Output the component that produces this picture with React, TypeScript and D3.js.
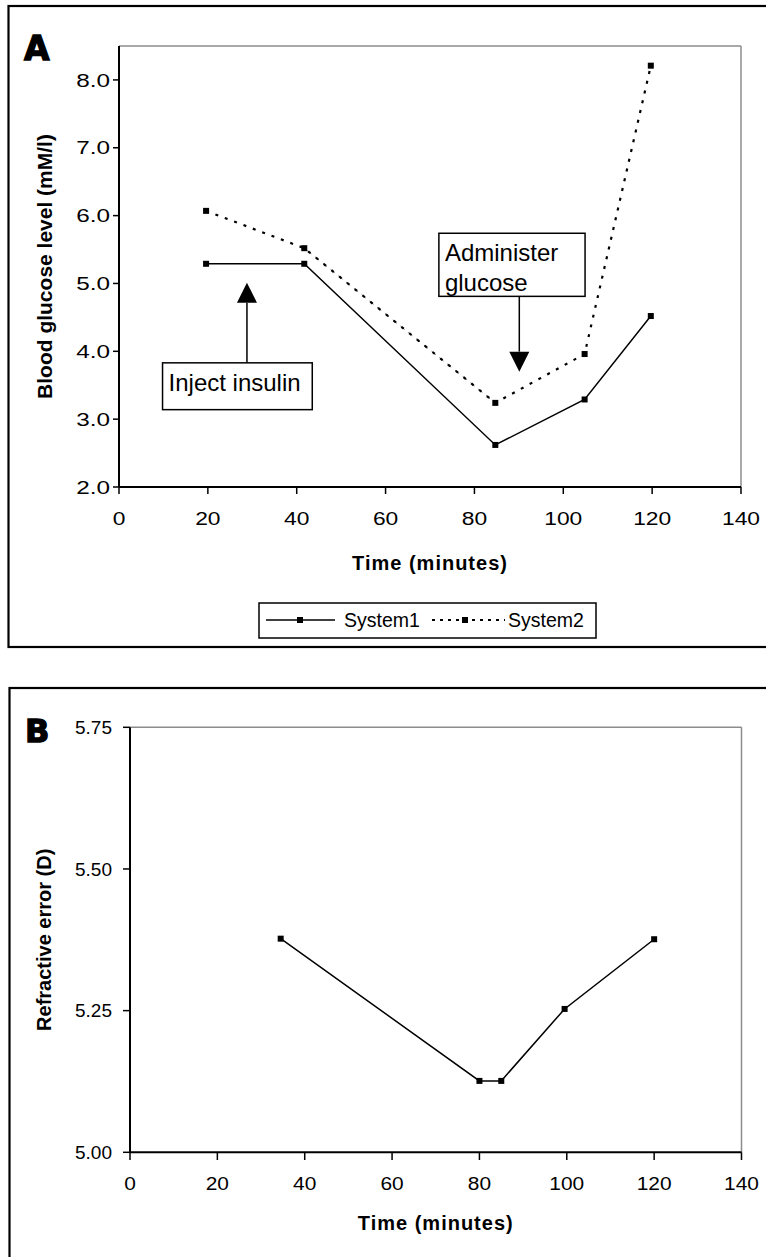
import React from "react";
import * as d3 from "d3";

// ---------- data ----------
const timeA = [19.6, 41.7, 84.7, 104.8, 119.7];
const system1 = [5.29, 5.29, 2.62, 3.29, 4.52];
const system2 = [6.07, 5.52, 3.24, 3.96, 8.21];
const seriesNames = ["System1", "System2"];

const timeB = [34.5, 80, 85, 99.5, 120];
const refractive = [5.377, 5.126, 5.126, 5.253, 5.376];

const xTicks = [0, 20, 40, 60, 80, 100, 120, 140];
const yTicksA = [2, 3, 4, 5, 6, 7, 8];
const yTicksB = [5.0, 5.25, 5.5, 5.75];

const insulinNote = { text: ["Inject insulin"], x0: 9.8, x1: 43.5, yTop: 3.83, yBot: 3.14, arrowX: 28.8, tipY: 5.01 };
const glucoseNote = { text: ["Administer", "glucose"], x0: 72.0, x1: 104.9, yTop: 5.74, yBot: 4.81, arrowX: 90.1, tipY: 3.7 };

const FONT = "'Liberation Sans', Arial, Helvetica, sans-serif";

function Marker({ x, y }: { x: number; y: number }) {
  return <rect x={x - 3} y={y - 3} width={6} height={6} fill="#000" />;
}

function Frame({ x, y, y0, y1 }: any) {
  const [xl, xr] = x.range();
  const yb = y(y0), yt = y(y1);
  return (
    <g>
      <line x1={xl} x2={xr} y1={yt} y2={yt} stroke="#8c8c8c" strokeWidth={1.5} />
      <line x1={xr} x2={xr} y1={yt} y2={yb} stroke="#8c8c8c" strokeWidth={1.5} />
      <line x1={xl} x2={xr} y1={yb} y2={yb} stroke="#000" strokeWidth={2} />
      <line x1={xl} x2={xl} y1={yt} y2={yb} stroke="#000" strokeWidth={2} />
    </g>
  );
}

function Note({ n, x, y, up }: any) {
  const bx0 = x(n.x0), bx1 = x(n.x1), by0 = y(n.yTop), by1 = y(n.yBot);
  const ax = x(n.arrowX), tip = y(n.tipY);
  const headH = 20, headW = 10;
  const base = up ? tip + headH : tip - headH;
  const tail = up ? by0 : by1;
  return (
    <g>
      <line x1={ax} x2={ax} y1={tail} y2={base} stroke="#000" strokeWidth={1.5} />
      <path d={`M${ax},${tip}L${ax - headW},${base}L${ax + headW},${base}Z`} fill="#000" />
      <rect x={bx0} y={by0} width={bx1 - bx0} height={by1 - by0} fill="#fff" stroke="#000" strokeWidth={1.5} />
      {n.text.map((t: string, i: number) => (
        <text key={i} x={bx0 + 6} y={by0 + 28 + i * 30} fontSize={24} fontFamily={FONT} fill="#000">{t}</text>
      ))}
    </g>
  );
}

export default function App() {
  const xA = d3.scaleLinear().domain([0, 140]).range([119, 741]);
  const yA = d3.scaleLinear().domain([2, 8.5]).range([487, 46]);
  const xB = d3.scaleLinear().domain([0, 140]).range([130, 741.5]);
  const yB = d3.scaleLinear().domain([5, 5.75]).range([1152.3, 727.3]);

  const lineA = d3.line<[number, number]>().x(d => xA(d[0])).y(d => yA(d[1]));
  const lineB = d3.line<[number, number]>().x(d => xB(d[0])).y(d => yB(d[1]));

  const s1: [number, number][] = timeA.map((t, i) => [t, system1[i]]);
  const s2: [number, number][] = timeA.map((t, i) => [t, system2[i]]);
  const rb: [number, number][] = timeB.map((t, i) => [t, refractive[i]]);

  const fmtA = d3.format(".1f");
  const fmtB = d3.format(".2f");

  return (
    <svg width={766} height={1257} style={{ position: "absolute", left: 0, top: 0, background: "#fff" }} fontFamily={FONT}>
      <rect x={0} y={0} width={766} height={1257} fill="#fff" />
      {/* Panel borders */}
      <rect x={8.5} y={6} width={800} height={641} fill="none" stroke="#000" strokeWidth={2.2} />
      <rect x={9.5} y={688} width={800} height={640} fill="none" stroke="#000" strokeWidth={2.2} />

      {/* ---------- Panel A ---------- */}
      <text x={24} y={60} fontSize={33} fontWeight={900} fontFamily="'DejaVu Sans', sans-serif" stroke="#000" strokeWidth={1.3}>A</text>
      <Frame x={xA} y={yA} y0={2} y1={8.5} />
      {yTicksA.map(v => (
        <g key={v}>
          <line x1={113} x2={119} y1={yA(v)} y2={yA(v)} stroke="#000" strokeWidth={1.5} />
          <text transform={`translate(110,${yA(v)}) scale(1.28,1)`} dy="0.35em" textAnchor="end" fontSize={19}>{fmtA(v)}</text>
        </g>
      ))}
      {xTicks.map(v => (
        <g key={v}>
          <line x1={xA(v)} x2={xA(v)} y1={487} y2={494} stroke="#000" strokeWidth={1.5} />
          <text transform={`translate(${xA(v)},525) scale(1.2,1)`} textAnchor="middle" fontSize={19}>{v}</text>
        </g>
      ))}
      <text x={(xA(0) + xA(140)) / 2} y={570} textAnchor="middle" fontSize={20} fontWeight="bold" letterSpacing={1}>Time (minutes)</text>
      <text transform={`translate(52,${(yA(2) + yA(8.5)) / 2}) rotate(-90)`} textAnchor="middle" fontSize={21} fontWeight="bold">Blood glucose level (mM/l)</text>

      {/* System2 thin dashes in the falling segment */}
      <path d={lineA(s2.slice(1, 3)) || ""} fill="none" stroke="#000" strokeWidth={0.7} strokeDasharray="5,5" strokeDashoffset={-4} />
      <path d={lineA(s2) || ""} fill="none" stroke="#000" strokeWidth={2.2} strokeDasharray="3,7" />
      <path d={lineA(s1) || ""} fill="none" stroke="#000" strokeWidth={1.5} />
      {s1.map((d, i) => <Marker key={"a" + i} x={xA(d[0])} y={yA(d[1])} />)}
      {s2.map((d, i) => <Marker key={"b" + i} x={xA(d[0])} y={yA(d[1])} />)}

      <Note n={insulinNote} x={xA} y={yA} up={true} />
      <Note n={glucoseNote} x={xA} y={yA} up={false} />

      {/* Legend */}
      <g>
        <rect x={259} y={603} width={337} height={35} fill="#fff" stroke="#000" strokeWidth={1.5} />
        <line x1={266} x2={335} y1={620} y2={620} stroke="#000" strokeWidth={1.5} />
        <Marker x={300} y={620} />
        <text x={344} y={627} fontSize={19.5}>{seriesNames[0]}</text>
        <line x1={432} x2={505} y1={620} y2={620} stroke="#000" strokeWidth={2} strokeDasharray="3,5" />
        <Marker x={465} y={620} />
        <text x={508} y={627} fontSize={19.5}>{seriesNames[1]}</text>
      </g>

      {/* ---------- Panel B ---------- */}
      <text x={25} y={742} fontSize={32} fontWeight={900} fontFamily="'DejaVu Sans', sans-serif" stroke="#000" strokeWidth={1.3}>B</text>
      <Frame x={xB} y={yB} y0={5} y1={5.75} />
      {yTicksB.map(v => (
        <g key={v}>
          <line x1={123} x2={130} y1={yB(v)} y2={yB(v)} stroke="#000" strokeWidth={1.5} />
          <text x={112} y={yB(v)} dy="0.35em" textAnchor="end" fontSize={19}>{fmtB(v)}</text>
        </g>
      ))}
      {xTicks.map(v => (
        <g key={v}>
          <line x1={xB(v)} x2={xB(v)} y1={1152.3} y2={1160} stroke="#000" strokeWidth={1.5} />
          <text transform={`translate(${xB(v)},1190) scale(1.1,1)`} textAnchor="middle" fontSize={19}>{v}</text>
        </g>
      ))}
      <text x={(xB(0) + xB(140)) / 2} y={1230} textAnchor="middle" fontSize={20} fontWeight="bold" letterSpacing={1}>Time (minutes)</text>
      <text transform={`translate(51,${(yB(5) + yB(5.75)) / 2}) rotate(-90)`} textAnchor="middle" fontSize={20} fontWeight="bold">Refractive error (D)</text>

      <path d={lineB(rb) || ""} fill="none" stroke="#000" strokeWidth={1.5} />
      {rb.map((d, i) => <Marker key={"r" + i} x={xB(d[0])} y={yB(d[1])} />)}
    </svg>
  );
}
